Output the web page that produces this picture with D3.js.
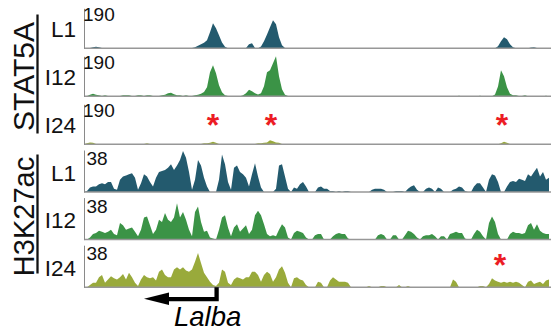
<!DOCTYPE html>
<html>
<head>
<meta charset="utf-8">
<script src="https://cdn.jsdelivr.net/npm/d3@7"></script>
<style>
  body { margin: 0; background: #fff; }
  svg { display: block; font-family: "Liberation Sans", Arial, Helvetica, sans-serif; }
</style>
</head>
<body>
<div id="chart"></div>
<script>
// signal per genomic bin (156 bins across the window)
const binCount = 156;

const groupNames = ['STAT5A', 'H3K27ac'];
const sampleNames = ['L1', 'I12', 'I24'];
const scaleMax = [190, 38];
const sampleColors = ['#235a6e', '#3b9346', '#99aa3b'];

const stat5aL1 = [
  0, 0, 2, 5, 7, 5, 2, 0, 1, 2,
  2, 1, 0, 0, 1, 0, 0, 1, 0, 0,
  1, 1, 0, 0, 1, 1, 0, 1, 0, 1,
  0, 1, 0, 0, 1, 0, 2, 5, 12, 19,
  26, 38, 76, 119, 95, 62, 28, 7, 0, 0,
  0, 0, 0, 0, 2, 19, 24, 2, 0, 9,
  33, 66, 100, 133, 114, 52, 14, 2, 0, 0,
  0, 0, 0, 0, 0, 0, 0, 0, 0, 0,
  0, 0, 0, 0, 0, 0, 0, 0, 0, 0,
  0, 0, 0, 0, 0, 0, 0, 0, 0, 0,
  0, 0, 0, 0, 0, 0, 0, 0, 0, 0,
  0, 0, 0, 0, 0, 0, 0, 0, 0, 0,
  0, 0, 0, 0, 0, 0, 0, 0, 0, 0,
  0, 0, 0, 0, 0, 0, 0, 0, 10, 33,
  52, 43, 19, 5, 0, 0, 0, 0, 0, 4,
  5, 2, 0, 0, 0, 0
];
const stat5aI12 = [
  0, 2, 7, 12, 7, 5, 2, 5, 2, 2,
  1, 0, 1, 5, 5, 5, 2, 2, 5, 5,
  2, 5, 5, 2, 0, 2, 5, 7, 14, 17,
  10, 5, 5, 2, 5, 2, 2, 5, 7, 12,
  21, 43, 114, 147, 109, 52, 19, 5, 1, 0,
  0, 0, 0, 5, 14, 31, 24, 14, 9, 14,
  48, 114, 124, 157, 190, 95, 33, 7, 1, 0,
  0, 0, 0, 0, 0, 0, 0, 0, 0, 0,
  0, 0, 0, 0, 0, 0, 0, 0, 0, 0,
  0, 0, 0, 0, 0, 0, 0, 0, 0, 0,
  0, 0, 0, 0, 0, 0, 0, 0, 0, 0,
  0, 0, 0, 0, 0, 0, 0, 0, 0, 0,
  0, 0, 0, 0, 0, 3, 0, 0, 0, 0,
  0, 0, 3, 0, 0, 0, 0, 9, 47, 124,
  95, 43, 12, 5, 5, 2, 2, 5, 0, 0,
  0, 0, 0, 0, 3, 0
];
const stat5aI24 = [
  0, 5, 9, 7, 2, 1, 0, 0, 0, 0,
  2, 2, 1, 0, 1, 0, 0, 0, 0, 0,
  2, 5, 2, 0, 0, 0, 0, 0, 0, 0,
  0, 0, 0, 0, 0, 0, 0, 0, 1, 2,
  5, 5, 7, 12, 7, 1, 0, 0, 0, 0,
  0, 0, 0, 0, 0, 0, 0, 2, 5, 5,
  7, 9, 19, 14, 9, 7, 1, 0, 0, 0,
  0, 0, 0, 0, 0, 0, 0, 0, 0, 0,
  0, 0, 0, 0, 0, 0, 0, 0, 0, 0,
  0, 0, 0, 0, 0, 0, 0, 0, 0, 0,
  0, 0, 0, 0, 0, 0, 0, 0, 0, 0,
  0, 0, 0, 0, 0, 0, 0, 0, 0, 0,
  0, 0, 0, 0, 0, 2, 0, 0, 0, 0,
  0, 0, 0, 0, 0, 0, 0, 0, 0, 5,
  12, 7, 1, 0, 0, 0, 0, 0, 0, 0,
  0, 0, 0, 0, 0, 0
];
const h3k27acL1 = [
  0, 1, 4, 5, 5, 7, 8, 7, 9, 9,
  3, 2, 11, 14, 15, 16, 17, 13, 2, 8,
  16, 14, 9, 5, 13, 18, 19, 20, 22, 25,
  20, 24, 29, 37, 31, 18, 2, 11, 29, 24,
  13, 5, 0, 0, 0, 11, 34, 25, 9, 2,
  22, 24, 18, 16, 13, 5, 16, 26, 14, 4,
  0, 0, 0, 0, 3, 24, 25, 14, 3, 0,
  4, 3, 7, 9, 5, 0, 0, 0, 4, 5,
  3, 3, 1, 1, 0, 1, 0, 1, 1, 0,
  0, 0, 0, 0, 0, 0, 2, 3, 3, 3,
  2, 0, 0, 0, 1, 1, 1, 0, 3, 5,
  6, 2, 0, 0, 3, 4, 3, 0, 4, 3,
  0, 0, 0, 2, 3, 5, 4, 1, 0, 0,
  5, 8, 8, 4, 0, 11, 16, 15, 9, 0,
  0, 5, 9, 10, 9, 12, 11, 10, 16, 14,
  18, 22, 14, 18, 11, 13
];
const h3k27acI12 = [
  0, 0, 2, 5, 6, 8, 7, 6, 7, 9,
  5, 4, 15, 13, 9, 10, 11, 7, 3, 9,
  20, 21, 13, 5, 9, 18, 16, 24, 18, 16,
  20, 33, 20, 25, 18, 9, 3, 25, 30, 16,
  7, 8, 2, 1, 0, 9, 20, 22, 11, 3,
  11, 14, 7, 10, 13, 5, 9, 22, 26, 22,
  14, 5, 3, 4, 3, 9, 14, 11, 2, 0,
  6, 8, 7, 6, 2, 0, 0, 4, 5, 5,
  0, 0, 0, 3, 5, 6, 5, 5, 1, 0,
  0, 0, 0, 0, 0, 0, 0, 0, 4, 5,
  4, 0, 0, 4, 4, 0, 0, 4, 8, 7,
  5, 2, 0, 3, 4, 4, 5, 3, 0, 3,
  3, 0, 5, 6, 7, 6, 6, 1, 0, 0,
  5, 9, 7, 3, 0, 15, 21, 16, 5, 0,
  0, 0, 5, 7, 6, 6, 5, 6, 13, 15,
  9, 14, 8, 6, 5, 5
];
const h3k27acI24 = [
  0, 0, 2, 4, 4, 9, 11, 4, 7, 10,
  8, 7, 9, 12, 7, 13, 9, 4, 1, 7,
  11, 9, 8, 9, 6, 14, 16, 11, 9, 9,
  16, 18, 16, 18, 15, 14, 16, 23, 31, 22,
  13, 9, 5, 2, 1, 4, 16, 14, 4, 2,
  7, 9, 8, 7, 9, 9, 14, 14, 11, 5,
  11, 14, 12, 5, 9, 16, 19, 13, 4, 0,
  8, 9, 7, 6, 2, 0, 0, 0, 5, 4,
  0, 0, 6, 9, 7, 5, 5, 5, 4, 0,
  0, 0, 0, 0, 0, 1, 0, 0, 0, 1,
  1, 0, 0, 0, 0, 2, 0, 0, 1, 0,
  0, 0, 0, 0, 0, 0, 0, 0, 0, 0,
  0, 0, 0, 7, 5, 0, 0, 0, 0, 0,
  0, 0, 1, 1, 0, 3, 8, 6, 5, 4,
  5, 4, 5, 4, 5, 4, 2, 0, 5, 6,
  3, 4, 5, 3, 6, 7
];

// red asterisks: track index, bin, height in track units
const marks = [
  { track: 2, bin: 43.0, level: 126 },
  { track: 2, bin: 62.3, level: 126 },
  { track: 2, bin: 139.3, level: 126 },
  { track: 5, bin: 138.7, level: 26 }
];

// gene model (minus strand, bins)
const genes = [{ name: 'Lalba', tss: 44.2, end: 20 }];

const tracks = [
  { group: 0, sample: 0, values: stat5aL1 },
  { group: 0, sample: 1, values: stat5aI12 },
  { group: 0, sample: 2, values: stat5aI24 },
  { group: 1, sample: 0, values: h3k27acL1 },
  { group: 1, sample: 1, values: h3k27acI12 },
  { group: 1, sample: 2, values: h3k27acI24 }
];

const width = 551, height = 335;
const layout = [
  { base0: 48.3, step: 48, h: 40, maxX: 83, center: 76.5, size: 30 },
  { base0: 192, step: 47.6, h: 42, maxX: 86.5, center: 216.5, size: 29 }
];

const x = d3.scaleLinear().domain([0, binCount]).range([84, 552]);

const svg = d3.select('#chart').append('svg')
  .attr('width', width)
  .attr('height', height)
  .attr('viewBox', `0 0 ${width} ${height}`);

tracks.forEach(t => {
  const L = layout[t.group];
  const base = L.base0 + L.step * t.sample;
  const y = d3.scaleLinear().domain([0, scaleMax[t.group]])
    .range([base, base - L.h]).clamp(true);
  t.y = y;
  t.base = base;

  const area = d3.area()
    .x((d, i) => x(i))
    .y0(base)
    .y1(d => y(d));

  svg.append('path')
    .datum(t.values)
    .attr('fill', sampleColors[t.sample])
    .attr('d', area);

  // baseline
  svg.append('line')
    .attr('x1', 84).attr('x2', width)
    .attr('y1', base).attr('y2', base)
    .attr('stroke', '#979797')
    .attr('stroke-width', 1.5);

  // left axis, no ticks
  const ax = svg.append('g')
    .attr('transform', 'translate(84,0)')
    .call(d3.axisLeft(y).tickValues([]).tickSizeOuter(0));
  ax.select('.domain').attr('stroke', '#8a8a8a').attr('stroke-width', 1);

  svg.append('text')
    .attr('x', L.maxX)
    .attr('y', base - 27)
    .attr('font-size', 19)
    .attr('fill', '#111')
    .text(scaleMax[t.group]);

  svg.append('text')
    .attr('x', 76)
    .attr('y', base - 11.5)
    .attr('text-anchor', 'end')
    .attr('font-size', 22.5)
    .attr('fill', '#111')
    .text(sampleNames[t.sample]);
});

// group labels with rule
groupNames.forEach((g, i) => {
  const L = layout[i];
  svg.append('text')
    .attr('transform', `translate(33.5,${L.center}) rotate(-90)`)
    .attr('text-anchor', 'middle')
    .attr('font-size', L.size)
    .attr('fill', '#111')
    .text(g);
  svg.append('line')
    .attr('x1', 37.5).attr('x2', 37.5)
    .attr('y1', L.center - 62).attr('y2', L.center + 57)
    .attr('stroke', '#111')
    .attr('stroke-width', 2.3);
});

// asterisks
marks.forEach(m => {
  const t = tracks[m.track];
  svg.append('text')
    .attr('x', x(m.bin))
    .attr('y', t.y(m.level) + 18)
    .attr('text-anchor', 'middle')
    .attr('font-size', 32)
    .attr('font-weight', 'bold')
    .attr('fill', '#ec1c24')
    .text('*');
});

// gene arrow
const geneBase = tracks[5].base;
genes.forEach(g => {
  const xt = x(g.tss), xe = x(g.end);
  const yl = geneBase + 12;
  svg.append('path')
    .attr('d', `M${xt},${geneBase}V${yl}H${xe + 22}`)
    .attr('fill', 'none')
    .attr('stroke', '#000')
    .attr('stroke-width', 4.3);
  svg.append('path')
    .attr('d', `M${xe},${yl - 0.5}L${xe + 25},${yl - 6.8}L${xe + 25},${yl + 5.8}Z`)
    .attr('fill', '#000');
  svg.append('text')
    .attr('x', xe + 30)
    .attr('y', yl + 27)
    .attr('font-size', 27.5)
    .attr('font-style', 'italic')
    .attr('fill', '#000')
    .text(g.name);
});
</script>
</body>
</html>
